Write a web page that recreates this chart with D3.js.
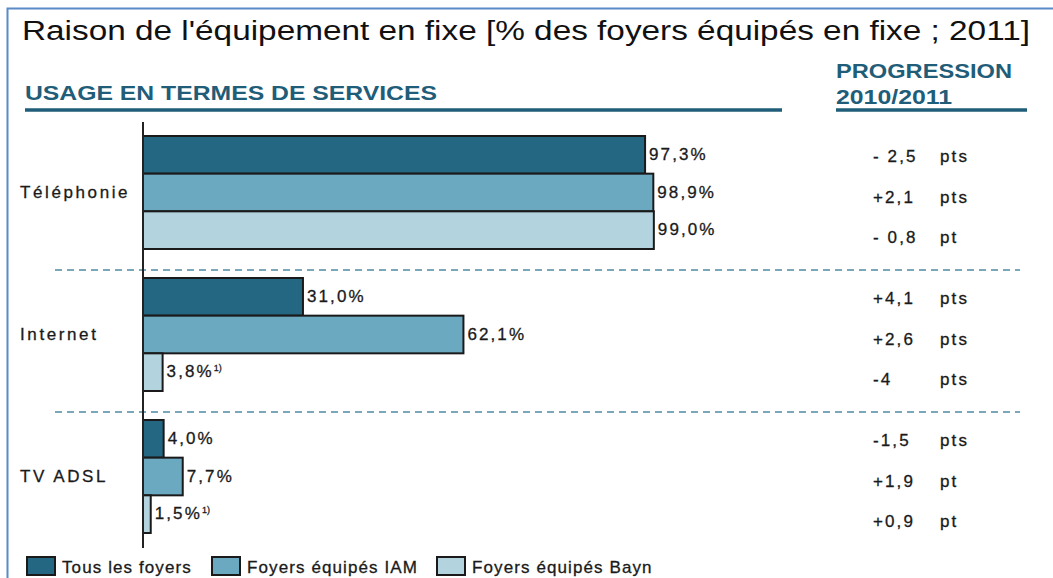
<!DOCTYPE html>
<html><head><meta charset="utf-8">
<script src="https://cdn.jsdelivr.net/npm/d3@7"></script>
<style>body{margin:0;background:#fff}svg{display:block}</style>
</head><body>
<svg id="c" width="1053" height="578"></svg>
<script>
const categories = ["Téléphonie", "Internet", "TV ADSL"];
const seriesNames = ["Tous les foyers", "Foyers équipés IAM", "Foyers équipés Bayn"];
const tousFoyers = [97.3, 31.0, 4.0];
const foyersIAM = [98.9, 62.1, 7.7];
const foyersBayn = [99.0, 3.8, 1.5];
const valueLabels = [["97,3%", "98,9%", "99,0%"], ["31,0%", "62,1%", "3,8%"], ["4,0%", "7,7%", "1,5%"]];
const footnotes = [["", "", ""], ["", "", "1)"], ["", "", "1)"]];
const progSigns = [["- 2,5", "+2,1", "- 0,8"], ["+4,1", "+2,6", "-4"], ["-1,5", "+1,9", "+0,9"]];
const progUnits = [["pts", "pts", "pt"], ["pts", "pts", "pts"], ["pts", "pt", "pt"]];

const colors = ["#246782", "#6aa9bf", "#b3d4df"];
const teal = "#1f5d78";
const font = "Liberation Sans, Arial, sans-serif";
const narrow = "'Liberation Sans Narrow', 'Arial Narrow', sans-serif";
const fs = 17, ls = 2.1;

const svg = d3.select("#c");
const series = [tousFoyers, foyersIAM, foyersBayn];

svg.append("path").attr("d", "M7.5,578 L7.5,8.5 L1053,8.5").attr("fill", "none")
  .attr("stroke", "#5b8ac9").attr("stroke-width", 2);

svg.append("text").attr("x", 22).attr("y", 40).attr("font-family", narrow).attr("font-size", 27)
  .attr("fill", "#111").attr("textLength", 1008).attr("lengthAdjust", "spacingAndGlyphs")
  .text("Raison de l'équipement en fixe [% des foyers équipés en fixe ; 2011]");

svg.append("text").attr("x", 25).attr("y", 100).attr("font-family", narrow).attr("font-size", 20)
  .attr("font-weight", "bold").attr("fill", teal).attr("textLength", 412).attr("lengthAdjust", "spacingAndGlyphs")
  .text("USAGE EN TERMES DE SERVICES");
svg.append("line").attr("x1", 25).attr("x2", 782).attr("y1", 110).attr("y2", 110)
  .attr("stroke", teal).attr("stroke-width", 3.5);

svg.append("text").attr("x", 836).attr("y", 78).attr("font-family", narrow).attr("font-size", 20)
  .attr("font-weight", "bold").attr("fill", teal).attr("textLength", 176).attr("lengthAdjust", "spacingAndGlyphs")
  .text("PROGRESSION");
svg.append("text").attr("x", 836).attr("y", 104).attr("font-family", narrow).attr("font-size", 20)
  .attr("font-weight", "bold").attr("fill", teal).attr("textLength", 116).attr("lengthAdjust", "spacingAndGlyphs")
  .text("2010/2011");
svg.append("line").attr("x1", 836).attr("x2", 1027).attr("y1", 110).attr("y2", 110)
  .attr("stroke", teal).attr("stroke-width", 3.5);

const x = d3.scaleLinear().domain([0, 100]).range([143, 659]);
const yCat = d3.scaleBand().domain(categories).range([122, 548]).paddingInner(0).paddingOuter(0);
const yBar = d3.scaleBand().domain([0, 1, 2]).range([0, 113]);

const barTop = (ci) => yCat(categories[ci]) + 14;

function txt(sel, xx, yy, s) {
  return sel.append("text").attr("x", xx).attr("y", yy).attr("font-family", font)
    .attr("font-size", fs).attr("letter-spacing", ls).attr("fill", "#1a1a1a")
    .attr("stroke", "#1a1a1a").attr("stroke-width", 0.3).text(s);
}

categories.forEach((cat, ci) => {
  const g = svg.append("g").attr("transform", `translate(0,${barTop(ci)})`);
  series.forEach((s, si) => {
    g.append("rect").attr("x", x(0)).attr("y", yBar(si))
      .attr("width", x(s[ci]) - x(0)).attr("height", yBar.bandwidth())
      .attr("fill", colors[si]).attr("stroke", "#1a1a1a").attr("stroke-width", 2);
    const t = txt(g, x(s[ci]) + 4, yBar(si) + yBar.bandwidth() / 2 + 5, valueLabels[ci][si]);
    if (footnotes[ci][si]) {
      t.append("tspan").attr("font-size", 9).attr("letter-spacing", 0).attr("dy", -6).text(footnotes[ci][si]);
    }
    const py = yBar(si) + yBar.bandwidth() / 2 + 7 + si * 3;
    txt(g, 873, py, progSigns[ci][si]);
    txt(g, 940, py, progUnits[ci][si]);
  });
  txt(svg, 20, barTop(ci) + yBar.bandwidth() * 1.5 + 5, cat).attr("letter-spacing", 2.6);
});

[1, 2].forEach(ci => {
  const yy = yCat(categories[ci]) + 6;
  svg.append("line").attr("x1", 55).attr("x2", 1020).attr("y1", yy).attr("y2", yy)
    .attr("stroke", "#4f8ba3").attr("stroke-width", 1.5).attr("stroke-dasharray", "7,5");
});

svg.append("line").attr("x1", x(0)).attr("x2", x(0)).attr("y1", 122).attr("y2", 548)
  .attr("stroke", "#222").attr("stroke-width", 2);

const legX = [27, 212, 437];
seriesNames.forEach((n, i) => {
  svg.append("rect").attr("x", legX[i]).attr("y", 557).attr("width", 28).attr("height", 18)
    .attr("fill", colors[i]).attr("stroke", "#1a1a1a").attr("stroke-width", 2);
  txt(svg, legX[i] + 35, 573, n).attr("letter-spacing", 1.1);
});
</script>
</body></html>
